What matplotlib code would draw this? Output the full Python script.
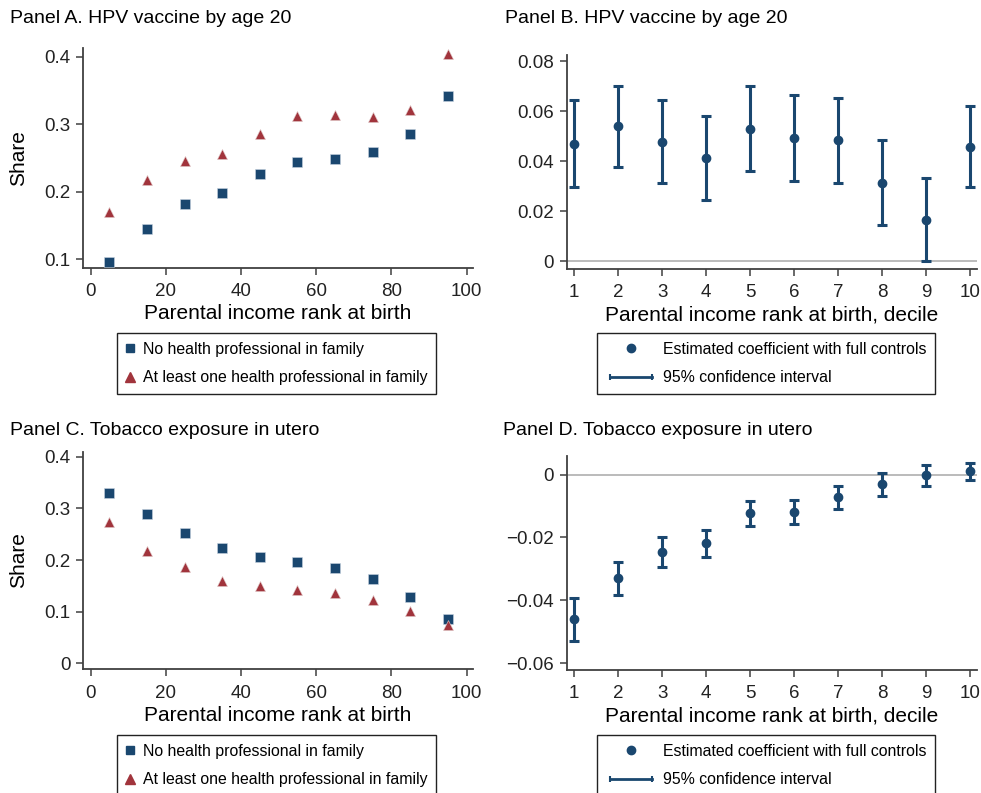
import matplotlib
matplotlib.use('Agg')
import matplotlib.pyplot as plt
from matplotlib.lines import Line2D
from matplotlib.legend_handler import HandlerLine2D
import numpy as np

plt.rcParams['font.family'] = ['Liberation Sans', 'DejaVu Sans']

# income rank (percentile bins)
rank = [5, 15, 25, 35, 45, 55, 65, 75, 85, 95]
decile = [1, 2, 3, 4, 5, 6, 7, 8, 9, 10]

# Panel A: HPV vaccine by age 20
hpv_nohp = [0.096, 0.145, 0.182, 0.198, 0.226, 0.244, 0.248, 0.259, 0.286, 0.342]
hpv_hp = [0.170, 0.217, 0.245, 0.256, 0.286, 0.312, 0.313, 0.311, 0.321, 0.404]

# Panel B: coefficients + CI
hpv_coef = [0.0471, 0.0540, 0.0479, 0.0412, 0.0531, 0.0492, 0.0484, 0.0313, 0.0165, 0.0459]
hpv_lo = [0.0297, 0.0379, 0.0312, 0.0245, 0.0361, 0.0323, 0.0315, 0.0145, 0.0000, 0.0299]
hpv_hi = [0.0647, 0.0703, 0.0647, 0.0580, 0.0703, 0.0665, 0.0653, 0.0484, 0.0335, 0.0620]

# Panel C: tobacco exposure in utero
tob_nohp = [0.329, 0.290, 0.252, 0.223, 0.206, 0.196, 0.185, 0.163, 0.128, 0.0865]
tob_hp = [0.2735, 0.217, 0.186, 0.159, 0.150, 0.141, 0.136, 0.123, 0.101, 0.0735]

# Panel D
tob_coef = [-0.0460, -0.0330, -0.0246, -0.0218, -0.0122, -0.0118, -0.0072, -0.0031, -0.0002, 0.0011]
tob_lo = [-0.0528, -0.0382, -0.0293, -0.0261, -0.0163, -0.0157, -0.0110, -0.0067, -0.0035, -0.0016]
tob_hi = [-0.0391, -0.0278, -0.0199, -0.0176, -0.0083, -0.0081, -0.0035, 0.0004, 0.0029, 0.0037]

navy = '#1a476f'
maroon = '#a1343c'
axcol = '#404040'

fig = plt.figure(figsize=(9.81, 7.93), dpi=100)
axA = fig.add_axes([0.0846, 0.662, 0.3976, 0.2775])
axB = fig.add_axes([0.5777, 0.6608, 0.4179, 0.2698])
axC = fig.add_axes([0.0846, 0.156, 0.3976, 0.2744])
axD = fig.add_axes([0.5777, 0.1551, 0.4179, 0.2699])

def style(ax):
    for s in ['top', 'right']:
        ax.spines[s].set_visible(False)
    for s in ['left', 'bottom']:
        ax.spines[s].set_color(axcol)
        ax.spines[s].set_linewidth(1.3)
    ax.tick_params(colors=axcol, labelcolor='#222222', labelsize=13.5, length=5, width=1.1,
                   direction='out', pad=4)
    ax.tick_params(axis='x', pad=6)

def fmt(v, nd):
    if abs(v) < 1e-12:
        return '0'
    return ('%.' + str(nd) + 'f') % v

def scatter_panel(ax, a, b, ylim, yticks):
    style(ax)
    ax.plot(rank, a, 's', color=navy, ms=6.5, mec='#c8d4e0', mew=0.4, zorder=3)
    ax.plot(rank, b, '^', color=maroon, ms=7.5, mec='#e0c8c8', mew=0.4, zorder=3)
    ax.set_xlim(-2, 101.7)
    ax.set_ylim(*ylim)
    ax.set_xticks([0, 20, 40, 60, 80, 100])
    ax.set_yticks(yticks)
    ax.set_yticklabels([fmt(v, 1) for v in yticks])
    ax.set_xlabel('Parental income rank at birth', fontsize=15, labelpad=3)
    ax.set_ylabel('Share', fontsize=15, labelpad=12)

def coef_panel(ax, c, lo, hi, ylim, yticks):
    style(ax)
    ax.axhline(0, color='#a8a8a8', lw=1.1, zorder=1)
    c = np.array(c)
    yerr = [c - np.array(lo), np.array(hi) - c]
    ax.errorbar(decile, c, yerr=yerr, fmt='o', color=navy, ms=6, elinewidth=2.2,
                capsize=3.5, capthick=2.2, zorder=3)
    ax.set_xlim(0.834, 10.15)
    ax.set_ylim(*ylim)
    ax.set_xticks(decile)
    ax.set_yticks(yticks)
    ax.set_yticklabels([fmt(v, 2).replace('-', '\u2212') for v in yticks])
    ax.set_xlabel('Parental income rank at birth, decile', fontsize=15, labelpad=3)

scatter_panel(axA, hpv_nohp, hpv_hp, (0.0867, 0.413), [0.1, 0.2, 0.3, 0.4])
scatter_panel(axC, tob_nohp, tob_hp, (-0.0116, 0.4097), [0, 0.1, 0.2, 0.3, 0.4])
coef_panel(axB, hpv_coef, hpv_lo, hpv_hi, (-0.003, 0.0825), [0, 0.02, 0.04, 0.06, 0.08])
coef_panel(axD, tob_coef, tob_lo, tob_hi, (-0.0621, 0.0059), [-0.06, -0.04, -0.02, 0])

fig.text(0.010, 0.977, 'Panel A. HPV vaccine by age 20', fontsize=14, va='center', ha='left')
fig.text(0.5148, 0.977, 'Panel B. HPV vaccine by age 20', fontsize=14, va='center', ha='left')
fig.text(0.010, 0.4577, 'Panel C. Tobacco exposure in utero', fontsize=14, va='center', ha='left')
fig.text(0.5128, 0.4577, 'Panel D. Tobacco exposure in utero', fontsize=14, va='center', ha='left')

sq = Line2D([], [], marker='s', ls='none', color=navy, ms=6)
tri = Line2D([], [], marker='^', ls='none', color=maroon, ms=7)
dot = Line2D([], [], marker='o', ls='none', color=navy, ms=6)
ci = Line2D([], [], marker='|', ls='-', color=navy, lw=2, ms=5, mew=1.5)

def scatter_legend(top):
    leg = fig.legend([sq, tri], ['No health professional in family',
                                 'At least one health professional in family'],
                     loc='upper left', bbox_to_anchor=(0.119, top), borderaxespad=0,
                     fontsize=11.4, handlelength=0.6, handletextpad=0.5, borderpad=0.55,
                     labelspacing=0.85, fancybox=False, framealpha=1, edgecolor='#222222')
    leg.get_frame().set_linewidth(1.0)

def coef_legend(top):
    leg = fig.legend([dot, ci], ['Estimated coefficient with full controls', '95% confidence interval'],
                     loc='upper left', bbox_to_anchor=(0.6086, top), borderaxespad=0,
                     fontsize=11.4, handlelength=3.2, handletextpad=0.4, borderpad=0.55,
                     labelspacing=0.85, numpoints=2, fancybox=False, framealpha=1,
                     edgecolor='#222222', handler_map={dot: HandlerLine2D(numpoints=1)})
    leg.get_frame().set_linewidth(1.0)

scatter_legend(0.580)
coef_legend(0.580)
scatter_legend(0.0731)
coef_legend(0.0731)

fig.savefig('out.png', dpi=100)
